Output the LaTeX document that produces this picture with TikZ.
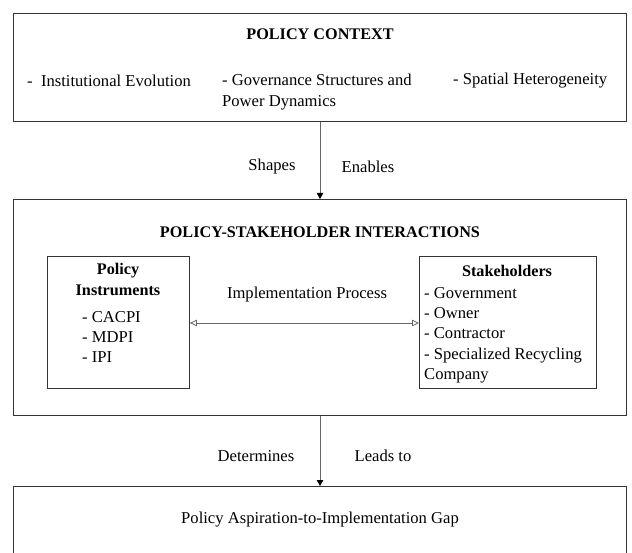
\documentclass[tikz,border=0pt]{standalone}
\usepackage{fontspec}
\setmainfont{Liberation Serif}
\usetikzlibrary{arrows.meta}
\begin{document}
\begin{tikzpicture}[x=1pt,y=-1pt,
  box/.style={draw=black!80, line width=0.9pt, inner sep=0pt},
  txt/.style={font=\fontsize{16.6}{20.3}\selectfont, inner sep=0pt},
  ttl/.style={font=\fontsize{16.2}{20.3}\selectfont\bfseries, inner sep=0pt},
  conn/.style={draw=black!60, line width=0.8pt},
  tip/.style={-{Triangle[length=6pt,width=6.5pt,color=black]}},
  otip/.style={{Triangle[open,length=7pt,width=6.5pt]}-{Triangle[open,length=7pt,width=6.5pt]}}]
\useasboundingbox (0,0) rectangle (632,553);
\clip (0,0) rectangle (632,553);
% boxes
\node[box, minimum width=613pt, minimum height=108pt, anchor=north west] (ctx) at (13,13) {};
\node[box, minimum width=613pt, minimum height=216pt, anchor=north west] (psi) at (13,199) {};
\node[box, minimum width=142pt, minimum height=132pt, anchor=north west] (pi) at (47,256) {};
\node[box, minimum width=177pt, minimum height=132pt, anchor=north west] (st) at (419,256) {};
\node[box, minimum width=613pt, minimum height=80pt, anchor=north west] (gap) at (13,486) {};
% top texts
\node[ttl] (t1) at (320,34) {POLICY CONTEXT};
\node[txt, anchor=west] (c1) at (27,81) {-\ \ Institutional Evolution};
\node[txt, anchor=north west, align=left] (c2) at (222,74) {- Governance Structures and\\Power Dynamics};
\node[txt, anchor=west] (c3) at (453,81) {- Spatial Heterogeneity};
% middle texts
\node[ttl] (t2) at (320,232) {POLICY-STAKEHOLDER INTERACTIONS};
\node[ttl, align=center, anchor=north] (pih) at (118,263.5) {Policy\\Instruments};
\node[txt, anchor=north west, align=left] (pil) at (82,311) {- CACPI\\- MDPI\\- IPI};
\node[ttl, anchor=center] (sth) at (507,271) {Stakeholders};
\node[txt, anchor=north west, align=left] (stl) at (424,287) {- Government\\- Owner\\- Contractor\\- Specialized Recycling\\Company};
\node[txt] (ip) at (307,295) {Implementation Process};
% bottom text
\node[txt] (g1) at (320,520) {Policy Aspiration-to-Implementation Gap};
% connectors
\draw[conn, tip] (ctx.south -| 320,0) -- (psi.north -| 320,0);
\draw[conn, tip] (psi.south -| 320,0) -- (gap.north -| 320,0);
\draw[conn, otip] (pi.east |- 0,323) -- (st.west |- 0,323);
% labels
\node[txt] (l1) at (272,167) {Shapes};
\node[txt] (l2) at (368,167) {Enables};
\node[txt] (l3) at (256,456) {Determines};
\node[txt] (l4) at (383,456) {Leads to};
\end{tikzpicture}
\end{document}
